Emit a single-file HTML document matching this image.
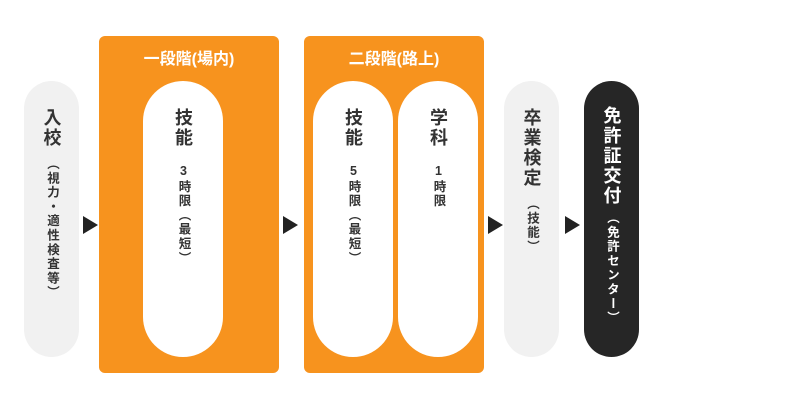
<!DOCTYPE html>
<html><head><meta charset="utf-8"><style>
*{margin:0;padding:0;box-sizing:border-box}
body{width:800px;height:417px;background:#fff;position:relative;overflow:hidden;font-family:"Liberation Sans","Noto Sans CJK JP",sans-serif;font-weight:bold;color:#333}
.pill{position:absolute;top:81px;height:276px;border-radius:28px;display:flex;flex-direction:column;align-items:center}
.box{position:absolute;top:36px;width:180px;height:337px;background:#f7931e;border-radius:6px}
.ttl{position:absolute;top:50px;width:180px;text-align:center;color:#fff;font-size:16px;line-height:20px}
.big{writing-mode:vertical-rl;text-orientation:upright;font-size:18px;line-height:20px;letter-spacing:2px}
.sm{writing-mode:vertical-rl;text-orientation:upright;font-size:12.5px;line-height:15px;margin-top:9px;letter-spacing:1.8px}
.wp{width:80px;background:#fff;border-radius:40px}
.wp .sm{margin-top:16px}
.arr{position:absolute;top:216px;width:0;height:0;border-top:9px solid transparent;border-bottom:9px solid transparent;border-left:15px solid #222}
</style></head><body>
<div class="pill" style="left:24px;width:55px;background:#f1f1f1;padding-top:27px;"><div class="big">入校</div><div class="sm">（視力・適性検査等）</div></div>
<div class="arr" style="left:83px"></div>
<div class="box" style="left:99px"></div>
<div class="ttl" style="left:99px">一段階(場内)</div>
<div class="pill wp" style="left:143px;padding-top:27px"><div class="big">技能</div><div class="sm">3時限（最短）</div></div>
<div class="arr" style="left:283px"></div>
<div class="box" style="left:304px"></div>
<div class="ttl" style="left:304px">二段階(路上)</div>
<div class="pill wp" style="left:313px;padding-top:27px"><div class="big">技能</div><div class="sm">5時限（最短）</div></div>
<div class="pill wp" style="left:398px;padding-top:27px"><div class="big">学科</div><div class="sm">1時限</div></div>
<div class="arr" style="left:488px"></div>
<div class="pill" style="left:504px;width:55px;background:#f1f1f1;padding-top:27px"><div class="big">卒業検定</div><div class="sm">（技能）</div></div>
<div class="arr" style="left:565px"></div>
<div class="pill" style="left:584px;width:55px;background:#262626;color:#fff;padding-top:25px"><div class="big">免許証交付</div><div class="sm" style="margin-top:5px">（免許センター）</div></div>
</body></html>
